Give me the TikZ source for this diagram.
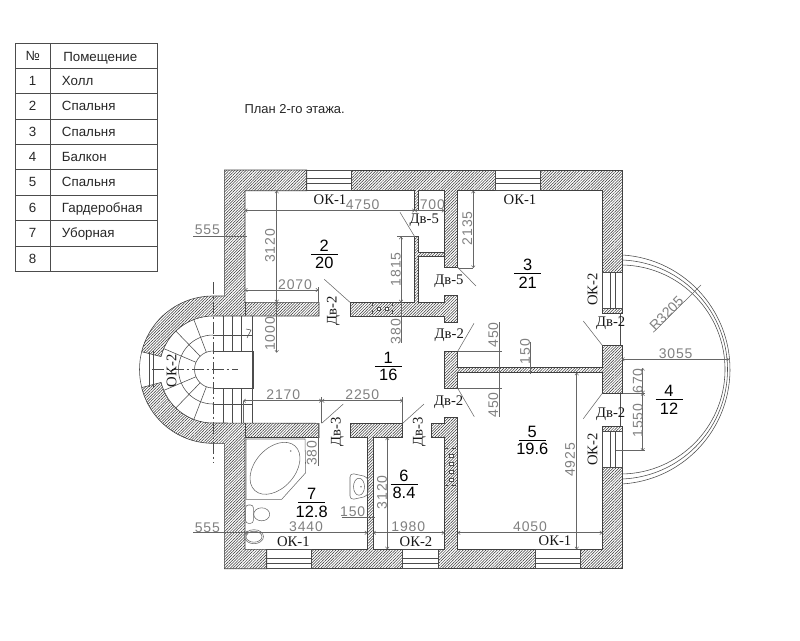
\documentclass[tikz,border=0pt]{standalone}
\usepackage{fontspec}
\setmainfont{Liberation Sans}
\newfontfamily\capfont{Liberation Serif}
\newfontfamily\dimfont[LetterSpace=6]{Liberation Sans}
\usetikzlibrary{arrows.meta}
\usetikzlibrary{patterns.meta}
\tikzset{
      wall/.style={draw=black!75, line width=.45pt, pattern={Lines[angle=45,distance=1.5pt,line width=.38pt]}, pattern color=black!80},
      plan/.style={draw=black!70, line width=.42pt},
      fixture/.style={draw=black!60, line width=.4pt},
      swing/.style={draw=black!60, line width=.4pt},
      dimline/.style={draw=black!60, line width=.4pt, {To[length=2pt,width=3pt]}-{To[length=2pt,width=3pt]}},
      extline/.style={draw=black!60, line width=.4pt},
      centerline/.style={draw=black!70, line width=.4pt, dash pattern=on 9pt off 2pt on 2pt off 2pt},
      dimtext/.style={text=black!50, font=\dimfont\fontsize{10.5}{12}\selectfont, inner sep=0pt},
      markup/.style={text=black!90, font=\capfont\fontsize{11}{13}\selectfont, inner sep=0pt},
      roomno/.style={text=black, font=\fontsize{12.3}{14}\selectfont, inner sep=0pt},
      tabletext/.style={text=black!85, font=\fontsize{10}{12}\selectfont, inner sep=0pt, text height=7.2pt, text depth=0pt},
}
\newcommand{\roomtag}[4]{
      \node[roomno] (room#3) at (#1,#2-8.5) {#3};
      \node[roomno] (area#3) at (#1,#2+9) {#4};
      \draw[line width=.5pt] (#1-13.5,#2) -- (#1+13.5,#2);
}
\begin{document}
\begin{tikzpicture}[x=.75pt,y=.75pt,yscale=-1]
        \useasboundingbox (0,0) rectangle (800,640);

        % Draw the room table
        \draw[plan] (15.3,43.3) rectangle (157.3,271.3);
        \draw[plan] (50.7,43.3) -- (50.7,271.3);
        \foreach \ruley in {68.3,93.7,119.3,144.3,169.7,195,220.3,246} {
            \draw[plan] (15.3,\ruley) -- (157.3,\ruley);
        }
        \node[tabletext] (headno) at (32.7,56) {№};
        \node[tabletext,anchor=west] (headname) at (63,56.5) {Помещение};
        \foreach \rowno/\rowy/\rowname in {1/81/Холл,2/106/Спальня,3/132/Спальня,4/157/Балкон,5/182/Спальня,6/208/Гардеробная,7/233/Уборная,8/259/} {
            \node[tabletext] (no\rowno) at (32.7,\rowy) {\rowno};
            \node[tabletext,anchor=west] (name\rowno) at (61.7,\rowy) {\rowname};
        }
        \node[tabletext,anchor=west,font=\fontsize{9.7}{12}\selectfont] (title) at (244.3,108.3) {План 2-го этажа.};

        % Draw the walls
        \draw[wall] (306.7,170) -- (224.3,170) -- (224.3,296) -- (213,296)
            arc[start angle=270,end angle=194,radius=73.5]
            -- ({213+53.5*cos(194)},{369.5+53.5*sin(194)})
            arc[start angle=194,end angle=270,radius=53.5]
            -- (319,316) -- (319,302.3) -- (245,302.3) -- (245,190.7) -- (306.7,190.7) -- cycle;
        \draw[wall] (351.7,170) -- (495.7,170) -- (495.7,190.7) -- (457.7,190.7) -- (457.7,267.3) -- (444.3,267.3)
            -- (444.3,190.7) -- (418.7,190.7) -- (418.7,210) -- (414.7,210) -- (414.7,190.7) -- (351.7,190.7) -- cycle;
        \draw[wall] (540.3,170) -- (622.7,170) -- (622.7,272.3) -- (602.3,272.3) -- (602.3,190.7) -- (540.3,190.7) -- cycle;
        \draw[wall] (602.3,308.3) rectangle (622.7,313);
        \draw[wall] (444.3,351.3) -- (457.7,351.3) -- (457.7,367.3) -- (602.3,367.3) -- (602.3,345.3) -- (622.7,345.3)
            -- (622.7,393.3) -- (602.3,393.3) -- (602.3,372.7) -- (457.7,372.7) -- (457.7,388.3) -- (444.3,388.3) -- cycle;
        \draw[wall] (602.3,426) rectangle (622.7,431);
        \draw[wall] (622.7,467.3) -- (622.7,568.7) -- (580.3,568.7) -- (580.3,549.3) -- (602.3,549.3) -- (602.3,467.3) -- cycle;
        \draw[wall] (535.7,568.7) -- (438.3,568.7) -- (438.3,549.3) -- (444.3,549.3) -- (444.3,437.3) -- (431,437.3)
            -- (431,423.3) -- (444.3,423.3) -- (444.3,417.3) -- (457.7,417.3) -- (457.7,549.3) -- (535.7,549.3) -- cycle;
        \draw[wall] (311.7,568.7) -- (402.7,568.7) -- (402.7,549.3) -- (373.3,549.3) -- (373.3,437.5) -- (402.7,437.5)
            -- (402.7,423.3) -- (350.7,423.3) -- (350.7,437.5) -- (367.3,437.5) -- (367.3,549.3) -- (311.7,549.3) -- cycle;
        \draw[wall] (266.7,568.7) -- (224.3,568.7) -- (224.3,443.3) -- (213,443.3)
            arc[start angle=90,end angle=166,radius=73.5]
            -- ({213+53.5*cos(166)},{369.5+53.5*sin(166)})
            arc[start angle=166,end angle=90,radius=53.5]
            -- (319,423.3) -- (319,437.5) -- (245,437.5) -- (245,549.3) -- (266.7,549.3) -- cycle;
        \draw[wall] (350,302.3) -- (414.7,302.3) -- (414.7,236.7) -- (418.7,236.7) -- (418.7,252.7) -- (444.3,252.7)
            -- (444.3,256.7) -- (418.7,256.7) -- (418.7,302.3) -- (444.3,302.3) -- (444.3,295.3) -- (457.7,295.3)
            -- (457.7,322.3) -- (444.3,322.3) -- (444.3,316) -- (350,316) -- cycle;
        \draw[plan] (245,302.3) -- (245,316);
        \draw[plan] (245,423.3) -- (245,437.5);

        % Draw the vents
        \draw[plan,dashed] (372.7,302.3) -- (372.7,316);
        \draw[plan,dashed] (392.7,302.3) -- (392.7,316);
        \draw[plan,fill=white] (377,307) rectangle (380.5,310.5);
        \draw[plan,fill=white] (385,307) rectangle (388.5,310.5);
        \draw[plan,dashed] (444.3,448.3) -- (457.7,448.3);
        \draw[plan,dashed] (444.3,485) -- (457.7,485);
        \foreach \venty in {454,462,470,478} {
            \draw[plan,fill=white] (449,\venty) rectangle (453,\venty+3.5);
        }

        % Draw the windows
        \foreach \winleft/\winright in {306.7/351.7,495.7/540.3} {
            \draw[plan] (\winleft,170) rectangle (\winright,190.7);
            \draw[plan] (\winleft,178.3) -- (\winright,178.3);
            \draw[plan] (\winleft,183.3) -- (\winright,183.3);
        }
        \foreach \winleft/\winright in {266.7/311.7,402.7/438.3,535.7/580.3} {
            \draw[plan] (\winleft,549.3) rectangle (\winright,568.7);
            \draw[plan] (\winleft,558) -- (\winright,558);
            \draw[plan] (\winleft,563.3) -- (\winright,563.3);
        }
        \foreach \wintop/\winbottom in {272.3/308.3,431/467.3} {
            \draw[plan] (602.3,\wintop) rectangle (622.7,\winbottom);
            \draw[plan] (610,\wintop) -- (610,\winbottom);
            \draw[plan] (615,\wintop) -- (615,\winbottom);
        }
        \draw[plan] (620.7,313) -- (620.7,345.3);
        \draw[plan] (620.7,393.3) -- (620.7,426);

        % Draw the stairs
        \draw[plan] ({213+73.5*cos(194)},{369.5+73.5*sin(194)}) arc[start angle=194,end angle=166,radius=73.5];
        \draw[plan] (149,352) -- (149,387);
        \draw[plan] (153.3,351) -- (153.3,388);
        \draw[plan] (213,335) arc[start angle=270,end angle=90,radius=34.5];
        \draw[plan] (213,351) arc[start angle=270,end angle=90,radius=18.5];
        \foreach \stepangle in {111,134,157,203,226,249} {
            \draw[plan] ({213+18.5*cos(\stepangle)},{369.5+18.5*sin(\stepangle)}) -- ({213+53.5*cos(\stepangle)},{369.5+53.5*sin(\stepangle)});
        }
        \draw[plan] (213,351) -- (253.5,351) -- (253.5,388) -- (213,388);
        \draw[plan] (252,316) -- (252,423.3);
        \draw[plan] (213,335) -- (252,335);
        \draw[plan] (213,404) -- (252,404);
        \foreach \stepx in {223.3,232.3,241.3} {
            \draw[plan] (\stepx,316) -- (\stepx,351);
            \draw[plan] (\stepx,388) -- (\stepx,423.3);
        }
        \draw[plan] (246,329) -- (251,330) -- (247,338);
        \draw[centerline] (213,282) -- (213,463);
        \draw[centerline] (152,369.5) -- (238,369.5);

        % Draw the balcony
        \draw[plan] (622.7,255) arc[start angle=-86.3,end angle=86.3,radius=114.7];
        \draw[plan] (622.7,260) arc[start angle=-87.5,end angle=87.5,radius=109.6];
        \draw[plan] (622.7,265) arc[start angle=-88.8,end angle=88.8,radius=104.5];

        % Draw the door swings
        \draw[swing] (324.3,279.3) -- (350,302.3);
        \draw[swing] (400,212.3) -- (414.7,236.7);
        \draw[swing] (457.7,267.3) -- (476,286);
        \draw[swing] (457.7,351.3) -- (474,323.3);
        \draw[swing] (583.3,321) -- (602.3,345.3);
        \draw[swing] (457.7,388.3) -- (474.3,416.7);
        \draw[swing] (602.3,393.3) -- (583.3,418.7);
        \draw[swing] (402.7,423.3) -- (424,404);
        \draw[swing] (321.7,423.3) -- (343.3,404);

        % Draw the fixtures
        \draw[fixture] (246,439) -- (305,439) -- (305.7,472.7) -- (281.7,499.3) -- (246,499.3) -- cycle;
        \draw[fixture] (275,468.3) ellipse[x radius=30,y radius=20,rotate=-48];
        \fill[black!50] (290.7,451) circle[radius=.9];
        \draw[fixture,rounded corners=2pt] (245.7,505) rectangle (253.3,523.3);
        \draw[fixture] (261.7,514.3) ellipse[x radius=8,y radius=6.5];
        \draw[fixture] (254,536.7) ellipse[x radius=9.5,y radius=7];
        \draw[fixture] (254,536.7) ellipse[x radius=8,y radius=5.5];
        \draw[fixture,rounded corners=3pt] (350,473) -- (368,477) -- (368,496) -- (350,500) -- cycle;
        \draw[fixture] (359,486.7) ellipse[x radius=5.5,y radius=8.5];
        \fill[black!50] (361,486.7) circle[radius=.8];

        % Draw the dimensions
        \draw[dimline] (245,210.5) -- (414.7,210.5);
        \draw[dimline] (414.7,210.5) -- (444.3,210.5);
        \draw[extline] (193.3,236) -- (246.7,236);
        \draw[dimline] (276.7,190.7) -- (276.7,302.3);
        \draw[dimline] (276.7,302.3) -- (276.7,352.7);
        \draw[dimline] (245,290) -- (318.3,290);
        \draw[extline] (318.3,287) -- (318.3,302.3);
        \draw[dimline] (473.3,190.7) -- (473.3,268);
        \draw[extline] (457.7,268) -- (473.3,268);
        \draw[extline] (397,236.7) -- (414.7,236.7);
        \draw[dimline] (401,236.7) -- (401,302.3);
        \draw[extline] (401,302.3) -- (401,343);
        \draw[extline] (457.7,351.3) -- (502,351.3);
        \draw[extline] (457.7,388.3) -- (502,388.3);
        \draw[extline] (499,322) -- (499,417);
        \draw[extline] (530.7,341.7) -- (530.7,374);
        \draw[dimline] (576.7,372.7) -- (576.7,549.3);
        \draw[dimline] (457.7,532.7) -- (602.3,532.7);
        \draw[dimline] (373.3,532.7) -- (444.3,532.7);
        \draw[dimline] (245,532.7) -- (367.3,532.7);
        \draw[extline] (193.3,532.7) -- (245,532.7);
        \draw[extline] (341.7,517.7) -- (375,517.7);
        \draw[dimline] (387.3,437.5) -- (387.3,549.3);
        \draw[extline] (318.3,423.3) -- (318.3,466);
        \draw[dimline] (243.3,400.7) -- (321.7,400.7);
        \draw[dimline] (321.7,400.7) -- (402.7,400.7);
        \draw[extline] (243.3,400.7) -- (243.3,423.3);
        \draw[extline] (321.7,397) -- (321.7,423.3);
        \draw[extline] (402.7,397) -- (402.7,423.3);
        \draw[dimline] (622,359.3) -- (729,359.3);
        \draw[extline] (653.3,332.3) -- (701,285);
        \draw[dimline] (642.7,368) -- (642.7,393.3);
        \draw[dimline] (642.7,393.3) -- (642.7,450.7);
        \draw[extline] (622.7,393.3) -- (645,393.3);
        \draw[extline] (616,450.7) -- (645,450.7);

        \node[dimtext] (dimA) at (207.3,230) {555};
        \node[dimtext] (dimB) at (207.3,527.7) {555};
        \node[dimtext] (dimC) at (362.7,205) {4750};
        \node[dimtext] (dimD) at (432.3,205) {700};
        \node[dimtext,rotate=90] (dimE) at (270,246) {3120};
        \node[dimtext,rotate=90] (dimF) at (270,334) {1000};
        \node[dimtext] (dimG) at (295,285) {2070};
        \node[dimtext,rotate=90] (dimH) at (467.3,228.3) {2135};
        \node[dimtext,rotate=90] (dimI) at (395.7,269.3) {1815};
        \node[dimtext,rotate=90] (dimJ) at (395.7,331.7) {380};
        \node[dimtext,rotate=90] (dimK) at (493.3,335) {450};
        \node[dimtext,rotate=90] (dimL) at (493.3,405) {450};
        \node[dimtext,rotate=90] (dimM) at (525,351.7) {150};
        \node[dimtext,rotate=90] (dimN) at (570,460) {4925};
        \node[dimtext] (dimO) at (530,526.7) {4050};
        \node[dimtext] (dimP) at (408.3,526.7) {1980};
        \node[dimtext] (dimQ) at (306,526.7) {3440};
        \node[dimtext] (dimR) at (352.7,512) {150};
        \node[dimtext,rotate=90] (dimS) at (382,492.3) {3120};
        \node[dimtext,rotate=90] (dimT) at (311.7,453.3) {380};
        \node[dimtext] (dimU) at (283.3,394.3) {2170};
        \node[dimtext] (dimV) at (362.3,394.3) {2250};
        \node[dimtext] (dimW) at (675.7,353.7) {3055};
        \node[dimtext,rotate=45,font=\fontsize{10.5}{12}\selectfont] (dimX) at (666.5,313.5) {R3205};
        \node[dimtext,rotate=90] (dimY) at (637.7,381) {670};
        \node[dimtext,rotate=90] (dimZ) at (637.7,420.7) {1550};

        % Draw the window and door marks
        \node[markup] (okA) at (330,199.3) {ОК-1};
        \node[markup] (okB) at (520,199.3) {ОК-1};
        \node[markup,rotate=90] (okC) at (592.7,289.3) {ОК-2};
        \node[markup,rotate=90] (okD) at (592.7,449.3) {ОК-2};
        \node[markup,rotate=90] (okE) at (171.7,370.7) {ОК-2};
        \node[markup] (okF) at (293.3,542) {ОК-1};
        \node[markup] (okG) at (416,541.7) {ОК-2};
        \node[markup] (okH) at (555,541) {ОК-1};
        \node[markup] (doorA) at (424.3,220.7) {Дв-5};
        \node[markup] (doorB) at (449,281.7) {Дв-5};
        \node[markup] (doorC) at (449.3,335) {Дв-2};
        \node[markup,rotate=90] (doorD) at (333.3,310.7) {Дв-2};
        \node[markup] (doorE) at (448.7,402.3) {Дв-2};
        \node[markup] (doorF) at (610.7,322.7) {Дв-2};
        \node[markup] (doorG) at (610.7,414) {Дв-2};
        \node[markup,rotate=90] (doorH) at (337.3,431.7) {Дв-3};
        \node[markup,rotate=90] (doorI) at (419.3,431.7) {Дв-3};

        % Draw the room tags
        \roomtag{388.3}{366}{1}{16}
        \roomtag{324.3}{254.3}{2}{20}
        \roomtag{527.7}{273.3}{3}{21}
        \roomtag{669}{399.3}{4}{12}
        \roomtag{532.3}{440.3}{5}{19.6}
        \roomtag{404}{484}{6}{8.4}
        \roomtag{311.7}{502.7}{7}{12.8}
    \end{tikzpicture}
\end{document}
